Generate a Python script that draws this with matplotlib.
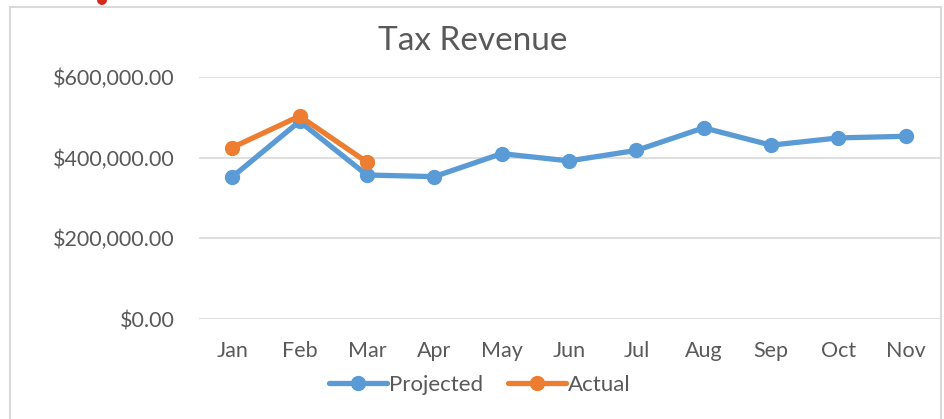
import matplotlib
matplotlib.use("Agg")
import matplotlib.pyplot as plt
from matplotlib.patches import Rectangle, Ellipse
from matplotlib.ticker import FuncFormatter

months = ["Jan", "Feb", "Mar", "Apr", "May", "Jun", "Jul", "Aug", "Sep", "Oct", "Nov"]
projected = [352000, 490000, 357000, 353000, 410000, 392000, 418000, 474000, 431000, 449000, 453000]
actual_months = ["Jan", "Feb", "Mar"]
actual = [425000, 503000, 389000]
yticks = [0, 200000, 400000, 600000]

plt.rcParams['font.family'] = ['Lato', 'DejaVu Sans']
W, H = 944, 419
fig = plt.figure(figsize=(W / 100, H / 100), dpi=100)
fig.patch.set_facecolor("white")

# chart border
fig.patches.append(Rectangle((10 / W, -0.05), 931 / W, 1 - 7 / H + 0.05,
                             transform=fig.transFigure, fill=False,
                             edgecolor="#D9D9D9", linewidth=1.5))
# cropped red icon at the top edge
fig.patches.append(Ellipse((102 / W, 1 - 0 / H), 10 / W, 10 / H,
                           transform=fig.transFigure, facecolor="#D42A1E",
                           edgecolor="none"))

ax = fig.add_axes([198.5 / W, 1 - 319 / H, 741 / W, 242 / H])
x = list(range(len(months)))
xa = [months.index(m) for m in actual_months]
blue = "#5B9BD5"
orange = "#ED7D31"
ax.plot(x, projected, color=blue, linewidth=3.8, marker="o", markersize=10,
        solid_capstyle="round", label="Projected", zorder=3)
ax.plot(xa, actual, color=orange, linewidth=3.8, marker="o", markersize=10,
        solid_capstyle="round", label="Actual", zorder=4)

ax.set_xlim(-0.5, len(months) - 0.5)
ax.set_ylim(0, 600000)
ax.set_yticks(yticks)
ax.yaxis.set_major_formatter(FuncFormatter(lambda v, p: "${:,.2f}".format(v)))
ax.set_xticks(x)
ax.set_xticklabels(months)
for s in ax.spines.values():
    s.set_visible(False)
ax.grid(axis="y", color="#D9D9D9", linewidth=1.2)
ax.set_axisbelow(True)
ax.tick_params(axis="both", length=0, labelsize=15.5, colors="#595959")
ax.tick_params(axis="y", pad=17)
ax.tick_params(axis="x", pad=16)

fig.text(473 / W, 1 - 41 / H, "Tax Revenue", ha="center", va="center",
         fontsize=24, color="#595959")

fig.legend(loc="center", bbox_to_anchor=(480 / W, 1 - 385 / H), ncol=2,
           frameon=False, fontsize=16, handlelength=2.6, columnspacing=1.1,
           handletextpad=0.1, labelcolor="#595959")

fig.savefig("out.png", dpi=100, facecolor="white")
